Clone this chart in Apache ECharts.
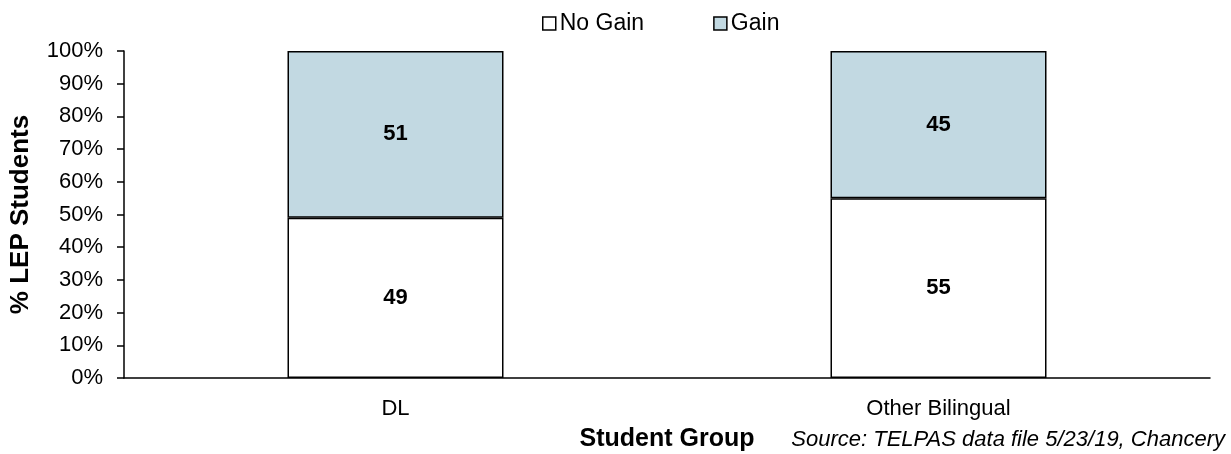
<!DOCTYPE html>
<html>
<head>
<meta charset="utf-8">
<script src="https://cdn.jsdelivr.net/npm/echarts@6/dist/echarts.min.js"></script>
<style>
html,body{margin:0;padding:0;background:#fff;}
#chart{width:1231px;height:454px;}
</style>
</head>
<body>
<div id="chart"></div>
<script>
// Student groups and share of LEP students (percent) with / without TELPAS gain
const categories = ['DL', 'Other Bilingual'];
const noGain = [49, 55];
const gain = [51, 45];
const yTicks = { min: 0, max: 100, interval: 10 };

const FONT = '"Liberation Sans", Arial, sans-serif';
const chart = echarts.init(document.getElementById('chart'), null, { renderer: 'canvas' });

const barStyle = (fill) => ({ color: fill, borderColor: '#000', borderWidth: 1.5 });
const valueLabel = {
  show: true, position: 'inside', color: '#000',
  fontFamily: FONT, fontSize: 22, fontWeight: 'bold'
};

chart.setOption({
  animation: false,
  backgroundColor: '#fff',
  textStyle: { fontFamily: FONT },
  legend: {
    top: 7, left: 537,
    itemWidth: 13, itemHeight: 13, itemGap: 69,
    icon: 'rect',
    textStyle: { fontFamily: FONT, fontSize: 23, color: '#000', padding: [0, 0, 0, -1] },
    data: [
      { name: 'No Gain', itemStyle: { color: '#fff', borderColor: '#000', borderWidth: 1.5 } },
      { name: 'Gain', itemStyle: { color: '#c2d9e2', borderColor: '#000', borderWidth: 1.5 } }
    ]
  },
  grid: { left: 124, right: 21, top: 51, bottom: 76, containLabel: false, outerBoundsMode: 'none' },
  xAxis: {
    type: 'category',
    data: categories,
    name: 'Student Group',
    nameLocation: 'middle',
    nameGap: 49,
    nameTextStyle: { fontFamily: FONT, fontSize: 25, fontWeight: 'bold', color: '#000' },
    axisLine: { lineStyle: { color: '#000', width: 1.5 } },
    axisTick: { show: false },
    axisLabel: { color: '#000', fontSize: 22, fontFamily: FONT, margin: 20 }
  },
  yAxis: {
    type: 'value',
    min: yTicks.min, max: yTicks.max, interval: yTicks.interval,
    name: '% LEP Students',
    nameLocation: 'middle',
    nameGap: 90,
    nameRotate: 90,
    nameTextStyle: { fontFamily: FONT, fontSize: 26, fontWeight: 'bold', color: '#000' },
    axisLine: { show: true, lineStyle: { color: '#000', width: 1.5 } },
    axisTick: { show: true, length: 7, lineStyle: { color: '#000', width: 1.5 } },
    splitLine: { show: false },
    axisLabel: { formatter: '{value}%', color: '#000', fontSize: 22, fontFamily: FONT, margin: 21 }
  },
  graphic: [{
    type: 'text',
    right: 6, top: 429,
    style: {
      text: 'Source: TELPAS data file 5/23/19, Chancery',
      fontFamily: FONT, fontSize: 22, fontStyle: 'italic', fill: '#000'
    }
  }],
  series: [
    {
      name: 'No Gain', type: 'bar', stack: 'total', data: noGain,
      barWidth: 216,
      itemStyle: barStyle('#fff'), label: valueLabel
    },
    {
      name: 'Gain', type: 'bar', stack: 'total', data: gain,
      barWidth: 216,
      itemStyle: barStyle('#c2d9e2'), label: valueLabel
    }
  ]
});
</script>
</body>
</html>
